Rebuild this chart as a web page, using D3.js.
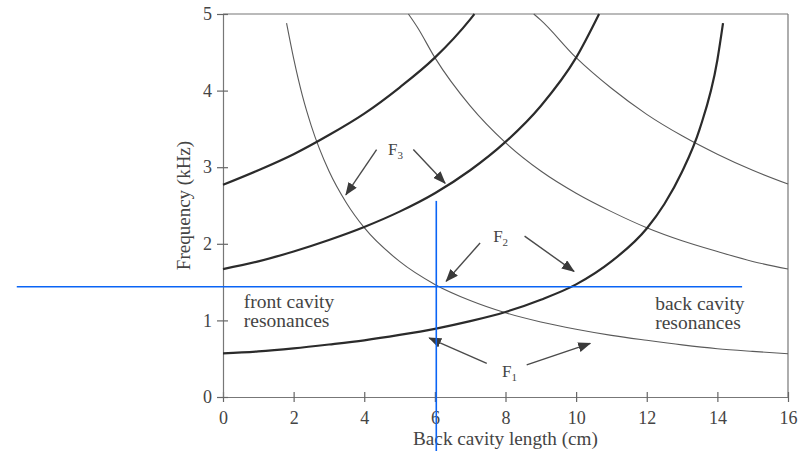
<!DOCTYPE html>
<html>
<head>
<meta charset="utf-8">
<script src="https://cdn.jsdelivr.net/npm/d3@7"></script>
<style>
  body { margin: 0; background: #fff; }
  text { font-family: "Liberation Serif", "DejaVu Serif", serif; fill: #444; }
</style>
</head>
<body>
<div id="chart"></div>
<script>
// back cavity resonances (thin lines, fall as the back cavity gets longer)
var backRes1 = [[1.8, 4.88], [2, 4.42], [2.25, 3.93], [2.5, 3.54], [3, 2.95], [3.5, 2.53], [4, 2.21], [5, 1.77], [6, 1.47], [7, 1.26], [8, 1.1], [9, 0.98], [10, 0.885], [11, 0.805], [12, 0.74], [13, 0.68], [14, 0.63], [15, 0.595], [16, 0.565]];
var backRes2 = [[5.25, 5.0], [5.5, 4.83], [6, 4.43], [7, 3.8], [8, 3.32], [9, 2.95], [10, 2.66], [11, 2.42], [12, 2.21], [13, 2.04], [14, 1.9], [15, 1.77], [16, 1.67]];
var backRes3 = [[8.8, 5.0], [9, 4.92], [10, 4.43], [11, 4.03], [12, 3.69], [13, 3.41], [14, 3.17], [15, 2.96], [16, 2.78]];

// front cavity resonances (thick lines, rise with back cavity length)
var frontRes1 = [[0, 0.57], [1, 0.595], [2, 0.635], [3, 0.685], [4, 0.74], [5, 0.81], [6, 0.89], [7, 0.99], [8, 1.11], [9, 1.27], [10, 1.47], [11, 1.77], [12, 2.2], [12.5, 2.52], [13, 2.94], [13.5, 3.5], [14, 4.4], [14.16, 4.88]];
var frontRes2 = [[0, 1.67], [1, 1.77], [2, 1.9], [3, 2.05], [4, 2.22], [5, 2.42], [6, 2.66], [7, 2.96], [8, 3.33], [9, 3.8], [10, 4.43], [10.65, 5.0]];
var frontRes3 = [[0, 2.77], [1, 2.96], [2, 3.17], [3, 3.42], [4, 3.7], [5, 4.04], [6, 4.43], [7, 4.93], [7.12, 5.0]];

var xTicks = [0, 2, 4, 6, 8, 10, 12, 14, 16];
var yTicks = [0, 1, 2, 3, 4, 5];

// formant labels and their arrows, in data units [from, to]
var formantLabels = [["1", 7.9, 0.26], ["2", 7.65, 2.03], ["3", 4.67, 3.16]];
var formantArrows = [
  [[4.35, 3.23], [3.48, 2.64]], [[5.39, 3.23], [6.29, 2.79]],
  [[7.28, 2.01], [6.32, 1.51]], [[8.54, 2.1], [9.94, 1.64]],
  [[7.47, 0.44], [5.84, 0.77]], [[8.6, 0.42], [10.4, 0.7]]
];
var regionLabels = [["front cavity", "resonances", 0.59, 1.16], ["back cavity", "resonances", 12.24, 1.14]];

// blue crosshair at 6 cm / 1.44 kHz
var crossX = 6.04, crossY = 1.44;

function init() {
    var w = 799, h = 451;
    var svg = d3.select("#chart").append("svg")
        .attr("width", w)
        .attr("height", h);

    var x = d3.scaleLinear().domain([0, 16]).range([223, 788]);
    var y = d3.scaleLinear().domain([0, 5]).range([397, 14]);

    svg.append("defs").append("marker")
        .attr("id", "head")
        .attr("markerUnits", "userSpaceOnUse")
        .attr("viewBox", "0 0 13 10")
        .attr("markerWidth", 13).attr("markerHeight", 10)
        .attr("refX", 12).attr("refY", 5)
        .attr("orient", "auto")
        .append("path")
        .attr("d", "M0,0L13,5L0,10Z")
        .attr("fill", "#3a3a3a");

    // frame
    svg.append("line").attr("x1", x(0)).attr("x2", x(16)).attr("y1", y(5)).attr("y2", y(5))
        .attr("stroke", "#777").attr("stroke-width", 1.2);
    svg.append("line").attr("x1", x(16)).attr("x2", x(16)).attr("y1", y(5)).attr("y2", y(0))
        .attr("stroke", "#777").attr("stroke-width", 1.2);

    var xAxis = svg.append("g")
        .attr("transform", "translate(0," + y(0) + ")")
        .call(d3.axisBottom(x).tickValues(xTicks).tickFormat(d3.format("d")).tickSize(5).tickPadding(9).tickSizeOuter(0));
    var yAxis = svg.append("g")
        .attr("transform", "translate(" + x(0) + ",0)")
        .call(d3.axisLeft(y).tickValues(yTicks).tickFormat(d3.format("d")).tickSize(6).tickPadding(5).tickSizeOuter(0));

    // ticks cross the axis line
    xAxis.selectAll(".tick line").attr("y1", -5).attr("y2", 5);
    yAxis.selectAll(".tick line").attr("x1", -6).attr("x2", 5);
    [xAxis, yAxis].forEach(function (a) {
        a.select(".domain").attr("stroke", "#777").attr("stroke-width", 1.2);
        a.selectAll(".tick line").attr("stroke", "#666").attr("stroke-width", 1.2);
        a.selectAll("text").attr("font-size", 18).attr("font-family", null).style("fill", "#444");
    });

    svg.append("text")
        .attr("x", (x(0) + x(16)) / 2)
        .attr("y", 445)
        .attr("text-anchor", "middle")
        .attr("font-size", 19.2)
        .text("Back cavity length (cm)");
    svg.append("text")
        .attr("transform", "translate(190," + ((y(0) + y(5)) / 2) + ") rotate(-90)")
        .attr("text-anchor", "middle")
        .attr("font-size", 19)
        .text("Frequency (kHz)");

    var line = d3.line()
        .x(function (d) { return x(d[0]); })
        .y(function (d) { return y(d[1]); })
        .curve(d3.curveMonotoneX);

    svg.append("g").selectAll("path")
        .data([backRes1, backRes2, backRes3])
        .enter().append("path")
        .attr("d", line)
        .attr("fill", "none")
        .attr("stroke", "#5a5a5a")
        .attr("stroke-width", 1.1);

    svg.append("g").selectAll("path")
        .data([frontRes1, frontRes2, frontRes3])
        .enter().append("path")
        .attr("d", line)
        .attr("fill", "none")
        .attr("stroke", "#2b2b2b")
        .attr("stroke-width", 2.2);

    // arrows
    svg.append("g").selectAll("line")
        .data(formantArrows)
        .enter().append("line")
        .attr("x1", function (d) { return x(d[0][0]); })
        .attr("y1", function (d) { return y(d[0][1]); })
        .attr("x2", function (d) { return x(d[1][0]); })
        .attr("y2", function (d) { return y(d[1][1]); })
        .attr("stroke", "#4a4a4a")
        .attr("stroke-width", 1.4)
        .attr("marker-end", "url(#head)");

    var fl = svg.append("g").selectAll("text")
        .data(formantLabels)
        .enter().append("text")
        .attr("x", function (d) { return x(d[1]); })
        .attr("y", function (d) { return y(d[2]); })
        .attr("font-size", 17);
    fl.append("tspan").text("F");
    fl.append("tspan").attr("font-size", 11).attr("dy", 4).text(function (d) { return d[0]; });

    var rl = svg.append("g").selectAll("text")
        .data(regionLabels)
        .enter().append("text")
        .attr("x", function (d) { return x(d[2]); })
        .attr("y", function (d) { return y(d[3]); })
        .attr("font-size", 19.5);
    rl.append("tspan").text(function (d) { return d[0]; });
    rl.append("tspan").attr("x", function (d) { return x(d[2]); }).attr("dy", 19).text(function (d) { return d[1]; });

    // blue crosshair
    svg.append("line")
        .attr("x1", x(-5.84)).attr("x2", x(14.7))
        .attr("y1", y(crossY)).attr("y2", y(crossY))
        .attr("stroke", "#0a64f5").attr("stroke-width", 1.6);
    svg.append("line")
        .attr("x1", x(crossX)).attr("x2", x(crossX))
        .attr("y1", y(2.56)).attr("y2", h)
        .attr("stroke", "#0a64f5").attr("stroke-width", 1.6);
}
window.onload = init;
</script>
</body>
</html>
